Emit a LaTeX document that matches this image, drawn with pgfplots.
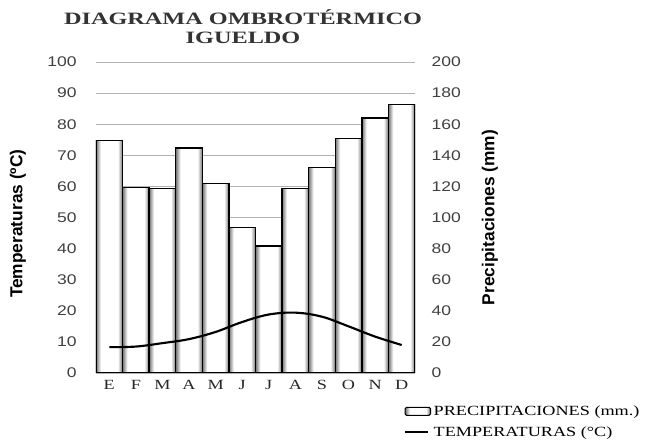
\documentclass[border=0pt]{standalone}
\usepackage{pgfplots}
\pgfplotsset{compat=1.18}
\usepackage{fontspec}
\setmainfont{Liberation Serif}
\newfontfamily\titlefont{Liberation Serif}[FakeStretch=1.4]
\newfontfamily\serifw{Liberation Serif}[FakeStretch=1.3]
\newfontfamily\sansw{Liberation Sans}[FakeStretch=1.25]
\newfontfamily\sansb{Liberation Sans}
\pgfdeclarehorizontalshading{barshade}{100bp}{color(0bp)=(black!55); color(25bp)=(black!55); color(34bp)=(white); color(66bp)=(white); color(75bp)=(black!55); color(100bp)=(black!55)}
\pgfplotstableread{
x temp
0 8.3
1 8.5
2 9.6
3 10.9
4 13.2
5 16.4
6 18.8
7 19.4
8 18.1
9 15.0
10 11.7
11 9.0
}\temptable
\begin{document}
\begin{tikzpicture}
\path[use as bounding box] (-72pt,-51pt) rectangle (426.75pt,279.75pt);
% Precipitation bars (right axis)
\begin{axis}[
  scale only axis, width=239.25pt, height=233.25pt,
  at={(0pt,0pt)}, anchor=south west,
  xmin=-0.5, xmax=11.5, ymin=0, ymax=200,
  xtick=\empty,
  ytick={0,20,...,200},
  yticklabel pos=right,
  axis line style={draw=none},
  major tick length=0pt,
  /pgf/number format/assume math mode=true,
  ymajorgrids, grid style={black!30, line width=0.5pt},
  yticklabel style={font=\sansw\fontsize{10.5}{12}\selectfont, text=black!75, anchor=west, xshift=9pt},
  ylabel={Precipitaciones (mm)},
  ylabel style={font=\sansb\bfseries\fontsize{13}{15}\selectfont, at={(axis description cs:1.235,0.5)}, anchor=center, rotate=0},
  precbar/.style={ybar, bar width=1, bar shift=0pt, draw=black, line width=1pt, shading=barshade},
]
\addplot[precbar] coordinates {(0,149.4)};
\addplot[precbar] coordinates {(1,119.4)};
\addplot[precbar] coordinates {(2,118.8)};
\addplot[precbar] coordinates {(3,144.7)};
\addplot[precbar] coordinates {(4,122.0)};
\addplot[precbar] coordinates {(5,93.4)};
\addplot[precbar] coordinates {(6,81.7)};
\addplot[precbar] coordinates {(7,118.8)};
\addplot[precbar] coordinates {(8,132.0)};
\addplot[precbar] coordinates {(9,151.0)};
\addplot[precbar] coordinates {(10,164.0)};
\addplot[precbar] coordinates {(11,172.8)};
\end{axis}
% Temperature line (left axis)
\begin{axis}[
  scale only axis, width=239.25pt, height=233.25pt,
  at={(0pt,0pt)}, anchor=south west,
  xmin=-0.5, xmax=11.5, ymin=0, ymax=100,
  xtick={0,...,11},
  xticklabels={E,F,M,A,M,J,J,A,S,O,N,D},
  ytick={0,10,...,100},
  axis line style={draw=none},
  major tick length=0pt,
  yticklabel style={font=\sansw\fontsize{10.5}{12}\selectfont, text=black!75, anchor=east, xshift=-11pt},
  /pgf/number format/assume math mode=true,
  xticklabel style={font=\serifw\fontsize{10.5}{12}\selectfont, text=black!85, yshift=-2pt},
  ylabel={Temperaturas (ºC)},
  ylabel style={font=\sansb\bfseries\fontsize{13}{15}\selectfont, at={(axis description cs:-0.245,0.48)}, anchor=center},
  title={DIAGRAMA OMBROTÉRMICO\\IGUELDO},
  title style={font=\titlefont\bfseries\fontsize{13}{14.5}\selectfont, align=center, at={(axis description cs:0.461,1.158)}, anchor=north, text=black!80},
  legend style={draw=none, fill=none, at={(axis description cs:0.965,-0.095)}, anchor=north west,
    font=\serifw\fontsize{10.5}{12}\selectfont, row sep=3pt, inner sep=0pt, cells={anchor=west}},
  legend cell align=left,
]
\addlegendimage{legend image code/.code={\draw[black, line width=0.8pt, rounded corners=1pt, shading=barshade] (0pt,-3pt) rectangle (19pt,3pt);}}
\addlegendentry{PRECIPITACIONES (mm.)}
\addplot[black, line width=1.6pt, smooth, tension=0.6] table[x=x, y=temp] {\temptable};
\addlegendentry{TEMPERATURAS (°C)}
\end{axis}
\end{tikzpicture}
\end{document}
